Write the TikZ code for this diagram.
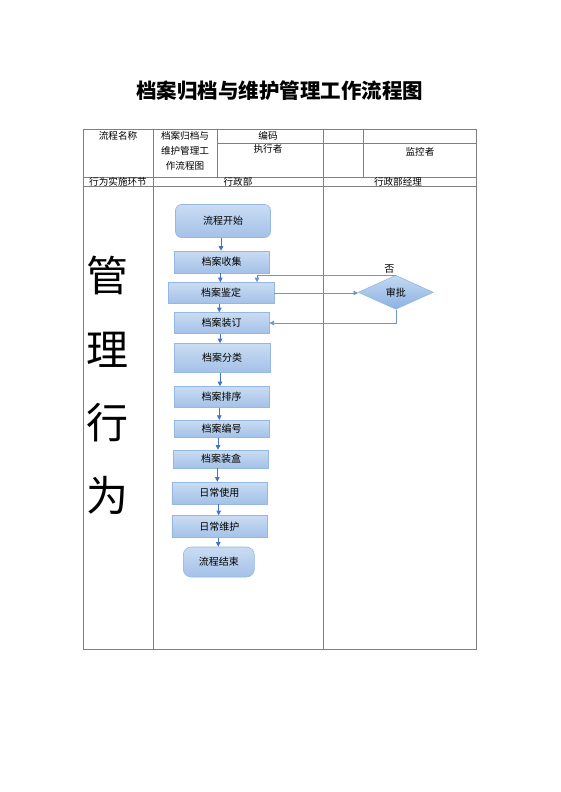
\documentclass[tikz,border=0pt]{standalone}
\usepackage{fontspec}
\setmainfont{Noto Sans CJK SC}
\usetikzlibrary{shapes.geometric,arrows.meta}
\definecolor{gridc}{HTML}{808080}
\definecolor{boxtop}{HTML}{CADCF2}
\definecolor{boxbot}{HTML}{A3C1E8}
\definecolor{boxline}{HTML}{95B8E3}
\definecolor{arrowc}{HTML}{4472C4}
\definecolor{fbline}{HTML}{6F94D6}
\definecolor{dtop}{HTML}{C4D8F2}
\definecolor{dbot}{HTML}{8CB2E2}
\begin{document}
\begin{tikzpicture}[x=1pt,y=-1pt,
  gridline/.style={draw=gridc, line width=0.8pt},
  hd/.style={font=\fontsize{9.6}{11}\selectfont, inner sep=0pt, anchor=center},
  big/.style={font=\fontsize{42}{44}\selectfont, inner sep=0pt, anchor=center},
  proc/.style={draw=boxline, line width=0.6pt, top color=boxtop, bottom color=boxbot,
    font=\fontsize{10}{11}\selectfont, inner sep=0pt, minimum width=95pt},
  term/.style={proc, rounded corners=6pt},
  decision/.style={diamond, aspect=2.2, draw=boxline, line width=0.6pt, top color=dtop, bottom color=dbot,
    font=\fontsize{10}{11}\selectfont, inner sep=0pt, minimum width=75pt, minimum height=34pt},
  flow/.style={draw=arrowc, line width=0.6pt, -{Triangle[length=4.5pt,width=4.5pt]}},
  fb/.style={draw=fbline, line width=0.6pt, -{Triangle[length=4.5pt,width=4.5pt]}}
]
\useasboundingbox (0,0) rectangle (560,792);
\fill[white] (0,0) rectangle (560,792);

% title
\node[font=\fontsize{20.5}{22}\selectfont\bfseries, inner sep=0pt] (title) at (279.5,91) {档案归档与维护管理工作流程图};

% table
\draw[gridline] (83.3,129.3) rectangle (476.3,649);
\draw[gridline] (153.3,129.3) -- (153.3,649);
\draw[gridline] (217,129.3) -- (217,177.3);
\draw[gridline] (323,129.3) -- (323,649);
\draw[gridline] (363.3,129.3) -- (363.3,177.3);
\draw[gridline] (217,143.3) -- (476.3,143.3);
\draw[gridline] (83.3,177.3) -- (476.3,177.3);
\draw[gridline] (83.3,186) -- (476.3,186);

\node[hd] (h1) at (118,135.5) {流程名称};
\node[hd] (h2a) at (185,135.5) {档案归档与};
\node[hd] (h2b) at (185,151) {维护管理工};
\node[hd] (h2c) at (185,166) {作流程图};
\node[hd] (h3) at (268,135.5) {编码};
\node[hd] (h4) at (268,148.5) {执行者};
\node[hd] (h5) at (420,152.3) {监控者};
\node[hd] (r1) at (118,181.5) {行为实施环节};
\node[hd] (r2) at (238,181.5) {行政部};
\node[hd] (r3) at (398,181.5) {行政部经理};

\node[big] (g1) at (107,275) {管};
\node[big] (g2) at (107,350) {理};
\node[big] (g3) at (107,422.5) {行};
\node[big] (g4) at (107,495.5) {为};

% flow
\node[term, minimum height=33pt] (start) at (223,221) {流程开始};
\node[proc, minimum height=22pt] (collect) at (221.7,262) {档案收集};
\node[proc, minimum width=106pt, minimum height=21pt] (appraise) at (221,293) {档案鉴定};
\node[proc, minimum height=21pt] (bind) at (221.7,323) {档案装订};
\node[proc, minimum width=96pt, minimum height=29pt] (classify) at (222,358) {档案分类};
\node[proc, minimum height=21pt] (sort) at (221.5,397) {档案排序};
\node[proc, minimum height=17pt] (number) at (221.5,428.7) {档案编号};
\node[proc, minimum height=18pt] (boxing) at (221,459) {档案装盒};
\node[proc, minimum height=22pt] (use) at (219.3,493) {日常使用};
\node[proc, minimum height=22pt] (maintain) at (219.3,526.5) {日常维护};
\node[term, rounded corners=8pt, minimum width=71pt, minimum height=30pt] (end) at (218.8,562) {流程结束};

\node[decision] (approve) at (395.8,292.3) {审批};
\node[hd, font=\fontsize{10}{11}\selectfont] (no) at (389.3,269.3) {否};

\draw[flow] ([xshift=-2pt]start.south) -- ([xshift=-2pt]start.south |- collect.north);
\draw[flow] ([xshift=-1.4pt]collect.south) -- ([xshift=-1.4pt]collect.south |- appraise.north);
\draw[flow] ([xshift=-1.7pt]appraise.south) -- ([xshift=-1.7pt]appraise.south |- bind.north);
\draw[flow] ([xshift=-1.7pt]bind.south) -- ([xshift=-1.7pt]bind.south |- classify.north);
\draw[flow] ([xshift=-2pt]classify.south) -- ([xshift=-2pt]classify.south |- sort.north);
\draw[flow] ([xshift=-2.2pt]sort.south) -- ([xshift=-2.2pt]sort.south |- number.north);
\draw[flow] ([xshift=-3.5pt]number.south) -- ([xshift=-3.5pt]number.south |- boxing.north);
\draw[flow] ([xshift=-3.7pt]boxing.south) -- ([xshift=-3.7pt]boxing.south |- use.north);
\draw[flow] ([xshift=-0.6pt]use.south) -- ([xshift=-0.6pt]use.south |- maintain.north);
\draw[flow] ([xshift=-1pt]maintain.south) -- ([xshift=-1pt]maintain.south |- end.north);

\draw[fb] (appraise.east) -- (appraise.east -| approve.west);
\draw[fb] (approve.north) -| ([xshift=36pt]appraise.north);
\draw[fb] (approve.south) |- (bind.east);
\end{tikzpicture}
\end{document}
